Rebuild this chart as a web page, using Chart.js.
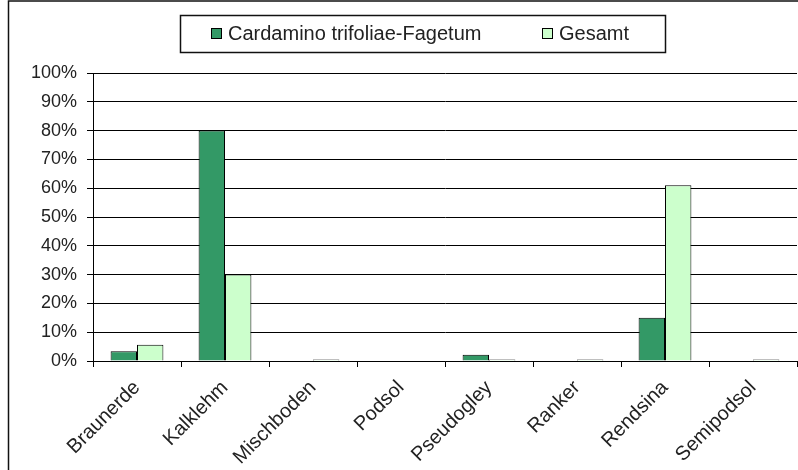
<!DOCTYPE html>
<html>
<head>
<meta charset="utf-8">
<script src="https://cdn.jsdelivr.net/npm/chart.js@4.4.0/dist/chart.umd.min.js"></script>
<style>
  html, body { margin: 0; padding: 0; background: #fff; }
</style>
</head>
<body>
<canvas id="soil-chart" width="798" height="470"></canvas>
<script>
// soil types
const categories = ["Braunerde", "Kalklehm", "Mischboden", "Podsol", "Pseudogley", "Ranker", "Rendsina", "Semipodsol"];
// share in percent
const cardaminoValues = [3.4, 80, 0, 0, 2.2, 0, 15, 0];
const gesamtValues = [5.6, 30, 0.5, 0, 0.5, 0.5, 61, 0.5];
const seriesNames = ["Cardamino trifoliae-Fagetum", "Gesamt"];
const seriesColors = ["#339966", "#ccffcc"];

const FONT = "'Liberation Sans', Arial, sans-serif";

// outer frame + boxed legend (Excel style)
const framePlugin = {
  id: 'frame',
  afterDraw(chart) {
    const ctx = chart.ctx;
    ctx.save();
    ctx.strokeStyle = '#111';
    ctx.lineWidth = 1.5;
    ctx.strokeRect(8.5, 1, 800, 480);
    ctx.strokeRect(180.5, 15.5, 485, 37);

    const items = [{ x: 211 }, { x: 542 }];
    ctx.font = '20px ' + FONT;
    ctx.textBaseline = 'middle';
    ctx.lineWidth = 1;
    chart.data.datasets.forEach((ds, i) => {
      ctx.fillStyle = ds.backgroundColor;
      ctx.fillRect(items[i].x, 28, 11, 11);
      ctx.strokeStyle = '#000';
      ctx.strokeRect(items[i].x + 0.5, 28.5, 10, 10);
      ctx.fillStyle = '#222';
      ctx.fillText(ds.label, items[i].x + 17, 34);
    });
    ctx.restore();
  }
};

new Chart(document.getElementById("soil-chart"), {
  type: 'bar',
  data: {
    labels: categories,
    datasets: [{
      label: seriesNames[0],
      data: cardaminoValues,
      backgroundColor: seriesColors[0],
      borderColor: '#000',
      borderWidth: 1,
      categoryPercentage: 0.6,
      barPercentage: 1.0
    }, {
      label: seriesNames[1],
      data: gesamtValues,
      backgroundColor: seriesColors[1],
      borderColor: '#000',
      borderWidth: 1,
      categoryPercentage: 0.6,
      barPercentage: 1.0
    }]
  },
  options: {
    responsive: false,
    animation: false,
    layout: { padding: { top: 73, left: 0, right: 1, bottom: 0 } },
    plugins: {
      legend: { display: false },
      tooltip: { enabled: false }
    },
    scales: {
      x: {
        afterFit: s => { s.height = 109; },
        grid: { offset: true, drawOnChartArea: false, color: '#000', tickLength: 6 },
        border: { color: '#000', width: 1 },
        ticks: {
          autoSkip: false,
          minRotation: 45,
          maxRotation: 45,
          padding: 9,
          color: '#222',
          font: { family: FONT, size: 20 }
        }
      },
      y: {
        min: 0,
        max: 100,
        afterFit: s => { s.width = 93; },
        grid: { color: '#000', tickLength: 6 },
        border: { color: '#000', width: 1 },
        ticks: {
          stepSize: 10,
          padding: 10,
          color: '#222',
          font: { family: FONT, size: 18 },
          callback: function(value) {
            return value + '%';
          }
        }
      }
    }
  },
  plugins: [framePlugin]
});
</script>
</body>
</html>
